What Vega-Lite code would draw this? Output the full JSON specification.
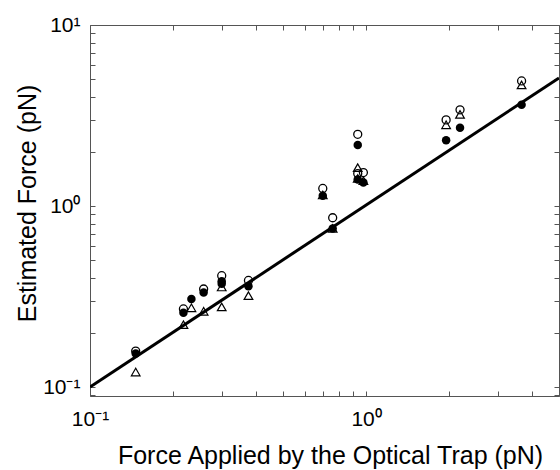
{
  "$schema": "https://vega.github.io/schema/vega-lite/v6.json",
  "width": 469,
  "height": 371,
  "autosize": {"type": "none"},
  "padding": {"left": 90, "top": 25, "right": 1, "bottom": 74},
  "background": "white",
  "config": {
    "font": "Liberation Sans",
    "view": {"stroke": "#555", "strokeWidth": 1},
    "axis": {
      "domain": false,
      "grid": false,
      "tickColor": "#555",
      "tickSize": -5,
      "labelFont": "Liberation Sans",
      "labelFontSize": 21,
      "labelColor": "black",
      "labelOverlap": false,
      "labelFlush": false,
      "titleFont": "Liberation Sans",
      "titleFontSize": 25,
      "titleFontWeight": "normal",
      "titleColor": "black"
    }
  },
  "datasets": {
    "pts": [
      {"x": 0.1464, "y": 0.158, "series": "open"},
      {"x": 0.218, "y": 0.270, "series": "open"},
      {"x": 0.258, "y": 0.348, "series": "open"},
      {"x": 0.300, "y": 0.412, "series": "open"},
      {"x": 0.375, "y": 0.388, "series": "open"},
      {"x": 0.697, "y": 1.25, "series": "open"},
      {"x": 0.757, "y": 0.861, "series": "open"},
      {"x": 0.933, "y": 2.49, "series": "open"},
      {"x": 0.933, "y": 1.51, "series": "open"},
      {"x": 0.978, "y": 1.53, "series": "open"},
      {"x": 1.95, "y": 2.99, "series": "open"},
      {"x": 2.19, "y": 3.40, "series": "open"},
      {"x": 3.66, "y": 4.91, "series": "open"},
      {"x": 0.1464, "y": 0.153, "series": "filled"},
      {"x": 0.218, "y": 0.257, "series": "filled"},
      {"x": 0.233, "y": 0.306, "series": "filled"},
      {"x": 0.258, "y": 0.333, "series": "filled"},
      {"x": 0.300, "y": 0.384, "series": "filled"},
      {"x": 0.300, "y": 0.372, "series": "filled"},
      {"x": 0.375, "y": 0.360, "series": "filled"},
      {"x": 0.697, "y": 1.14, "series": "filled"},
      {"x": 0.757, "y": 0.752, "series": "filled"},
      {"x": 0.933, "y": 2.17, "series": "filled"},
      {"x": 0.933, "y": 1.40, "series": "filled"},
      {"x": 0.978, "y": 1.35, "series": "filled"},
      {"x": 1.95, "y": 2.31, "series": "filled"},
      {"x": 2.19, "y": 2.71, "series": "filled"},
      {"x": 3.66, "y": 3.63, "series": "filled"},
      {"x": 0.1464, "y": 0.121, "series": "tri"},
      {"x": 0.218, "y": 0.221, "series": "tri"},
      {"x": 0.233, "y": 0.274, "series": "tri"},
      {"x": 0.258, "y": 0.262, "series": "tri"},
      {"x": 0.300, "y": 0.357, "series": "tri"},
      {"x": 0.300, "y": 0.277, "series": "tri"},
      {"x": 0.375, "y": 0.320, "series": "tri"},
      {"x": 0.697, "y": 1.15, "series": "tri"},
      {"x": 0.757, "y": 0.752, "series": "tri"},
      {"x": 0.933, "y": 1.63, "series": "tri"},
      {"x": 0.933, "y": 1.42, "series": "tri"},
      {"x": 0.978, "y": 1.38, "series": "tri"},
      {"x": 1.95, "y": 2.81, "series": "tri"},
      {"x": 2.19, "y": 3.21, "series": "tri"},
      {"x": 3.66, "y": 4.67, "series": "tri"}
    ],
    "fit": [
      {"x": 0.1, "y": 0.1},
      {"x": 5, "y": 5.1}
    ]
  },
  "layer": [
    {
      "data": {"name": "fit"},
      "mark": {"type": "line", "color": "black", "strokeWidth": 3, "clip": true},
      "encoding": {
        "x": {
          "field": "x", "type": "quantitative",
          "scale": {"type": "log", "domain": [0.1, 5], "nice": false},
          "axis": {
            "orient": "bottom",
            "title": "Force Applied by the Optical Trap (pN)",
            "titleBaseline": "alphabetic",
            "titleX": 240,
            "titleY": 67,
            "labelPadding": 17,
            "labelExpr": "abs(log(datum.value)/LN10 - round(log(datum.value)/LN10)) < 1e-6 ? (round(log(datum.value)/LN10) == -1 ? '10⁻¹' : (round(log(datum.value)/LN10) == 0 ? '10⁰' : '10¹')) : ''"
          }
        },
        "y": {
          "field": "y", "type": "quantitative",
          "scale": {"type": "log", "domain": [0.0892, 10], "nice": false},
          "axis": {
            "orient": "left",
            "title": "Estimated Force (pN)",
            "titleBaseline": "alphabetic",
            "titleX": -55,
            "titleY": 178,
            "labelPadding": 15,
            "labelExpr": "abs(log(datum.value)/LN10 - round(log(datum.value)/LN10)) < 1e-6 ? (round(log(datum.value)/LN10) == -1 ? '10⁻¹' : (round(log(datum.value)/LN10) == 0 ? '10⁰' : '10¹')) : ''"
          }
        }
      }
    },
    {
      "data": {"name": "pts"},
      "transform": [{"filter": "datum.series == 'open'"}],
      "mark": {"type": "point", "shape": "circle", "filled": false, "color": "black", "size": 64, "strokeWidth": 1.3, "opacity": 1},
      "encoding": {
        "x": {"field": "x", "type": "quantitative", "axis": {"orient": "top", "labels": false, "title": null}},
        "y": {"field": "y", "type": "quantitative", "axis": {"orient": "right", "labels": false, "title": null}}
      }
    },
    {
      "data": {"name": "pts"},
      "transform": [{"filter": "datum.series == 'filled'"}],
      "mark": {"type": "point", "shape": "circle", "filled": true, "color": "black", "size": 72, "opacity": 1},
      "encoding": {
        "x": {"field": "x", "type": "quantitative", "axis": null},
        "y": {"field": "y", "type": "quantitative", "axis": null}
      }
    },
    {
      "data": {"name": "pts"},
      "transform": [{"filter": "datum.series == 'tri'"}],
      "mark": {"type": "point", "shape": "triangle-up", "filled": false, "color": "black", "size": 75, "strokeWidth": 1.2, "opacity": 1},
      "encoding": {
        "x": {"field": "x", "type": "quantitative", "axis": null},
        "y": {"field": "y", "type": "quantitative", "axis": null}
      }
    }
  ],
  "resolve": {"axis": {"x": "independent", "y": "independent"}}
}
